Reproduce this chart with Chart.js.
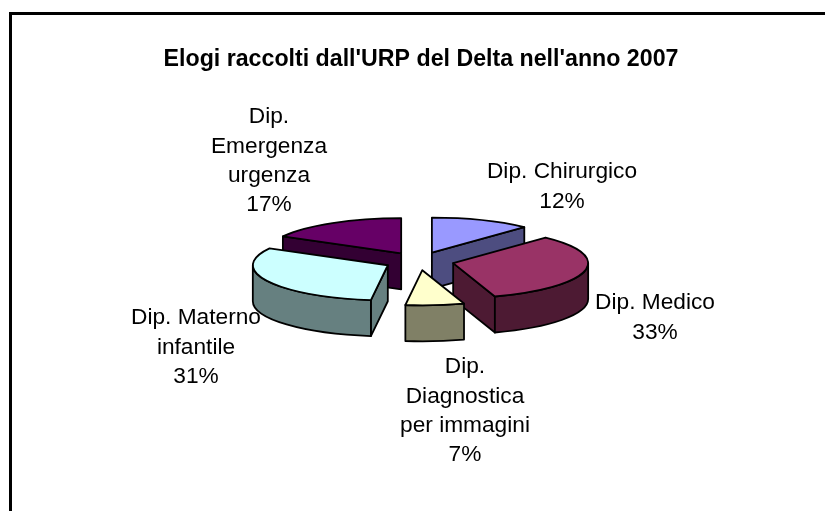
<!DOCTYPE html>
<html>
<head>
<meta charset="utf-8">
<style>
  html, body { margin: 0; padding: 0; background: #fff; overflow: hidden; }
  #wrap { position: relative; width: 825px; height: 511px; }
  /* sheet frame, only top and left edges fall inside the window */
  #frame { position: absolute; left: 9px; top: 12px; right: 0; bottom: 0; border-left: 3px solid #000; border-top: 3px solid #000; }
  canvas { position: absolute; left: 0; top: 0; }
</style>
</head>
<body>
<div id="wrap"><div id="frame"></div><canvas id="chart" width="825" height="511"></canvas></div>
<script src="https://cdn.jsdelivr.net/npm/chart.js@4"></script>
<script>
const chartTitle = "Elogi raccolti dall'URP del Delta nell'anno 2007";
const categories = ['Dip. Chirurgico', 'Dip. Medico', 'Dip. Diagnostica per immagini', 'Dip. Materno infantile', 'Dip. Emergenza urgenza'];
const shares = [12, 33, 7, 31, 17];
const topColors = ['#9999ff', '#993366', '#ffffcc', '#ccffff', '#660066'];
const sideColors = ['#4d4d80', '#4d1a33', '#808066', '#668080', '#330033'];
// label text is wrapped by hand like in the original
const labelLines = [
    ['Dip. Chirurgico', '12%'],
    ['Dip. Medico', '33%'],
    ['Dip.', 'Diagnostica', 'per immagini', '7%'],
    ['Dip. Materno', 'infantile', '31%'],
    ['Dip.', 'Emergenza', 'urgenza', '17%']
];
const labelAnchors = [[562, 172], [655, 303], [465, 367], [196, 318], [269, 117]];
const labelLeading = 29.3;

// painter's order, back slices first
const drawOrder = [0, 4, 3, 1, 2];
const squash = 0.26;
const depth = 36;
const explode = 35;
const pieShiftX = -2; // pie sits a little left of the title

// 3D look: squash every arc into an ellipse and extrude it downwards
const pie3d = {
    id: 'pie3d',
    beforeDatasetDraw(chart, args) {
        const ctx = chart.ctx;
        const arcs = args.meta.data;

        // labels go first, the pie covers the end of "Materno"
        ctx.save();
        ctx.fillStyle = '#000';
        ctx.font = '22.7px "Liberation Sans", Arial, sans-serif';
        ctx.textAlign = 'center';
        ctx.textBaseline = 'middle';
        labelLines.forEach((lines, i) => {
            lines.forEach((line, n) => {
                ctx.fillText(line, labelAnchors[i][0], labelAnchors[i][1] + n * labelLeading);
            });
        });
        ctx.restore();

        ctx.save();
        ctx.lineWidth = 1.8;
        ctx.lineJoin = 'round';
        ctx.strokeStyle = '#000';

        drawOrder.forEach(i => {
            const arc = arcs[i];
            const { x, y, startAngle: a, endAngle: b, outerRadius: r } = arc;
            const mid = (a + b) / 2;
            const cx = x + pieShiftX + Math.cos(mid) * explode;
            const cy = y + Math.sin(mid) * explode * squash;
            const ry = r * squash;
            const px = t => cx + Math.cos(t) * r;
            const py = t => cy + Math.sin(t) * ry;

            ctx.fillStyle = sideColors[i];
            // flat cut faces, only when they look at the viewer
            [[a, Math.cos(a) < -1e-6], [b, Math.cos(b) > 1e-6]].forEach(([t, visible]) => {
                if (!visible) return;
                ctx.beginPath();
                ctx.moveTo(cx, cy);
                ctx.lineTo(px(t), py(t));
                ctx.lineTo(px(t), py(t) + depth);
                ctx.lineTo(cx, cy + depth);
                ctx.closePath();
                ctx.fill();
                ctx.stroke();
            });
            // outer wall, front half of the ellipse only
            [[a, b], [a + Math.PI * 2, b + Math.PI * 2]].forEach(([s, e]) => {
                const from = Math.max(s, 0);
                const to = Math.min(e, Math.PI);
                if (to <= from) return;
                ctx.beginPath();
                ctx.ellipse(cx, cy, r, ry, 0, from, to);
                ctx.ellipse(cx, cy + depth, r, ry, 0, to, from, true);
                ctx.closePath();
                ctx.fill();
                ctx.stroke();
            });
            // top face
            ctx.fillStyle = topColors[i];
            ctx.beginPath();
            ctx.moveTo(cx, cy);
            ctx.ellipse(cx, cy, r, ry, 0, a, b);
            ctx.closePath();
            ctx.fill();
            ctx.stroke();
        });
        ctx.restore();
        return false;
    }
};

new Chart(document.getElementById('chart'), {
    type: 'pie',
    plugins: [pie3d],
    data: {
        labels: categories,
        datasets: [{
            data: shares,
            backgroundColor: topColors,
            radius: 135
        }]
    },
    options: {
        responsive: false,
        animation: false,
        layout: { padding: { left: 17, right: 0, top: 46, bottom: 62.6 } },
        plugins: {
            legend: { display: false },
            tooltip: { enabled: false },
            title: {
                display: true,
                text: chartTitle,
                color: '#000',
                font: { family: '"Liberation Sans", Arial, sans-serif', size: 23.2, weight: 'bold' },
                padding: 0
            }
        }
    }
});
</script>
</body>
</html>
